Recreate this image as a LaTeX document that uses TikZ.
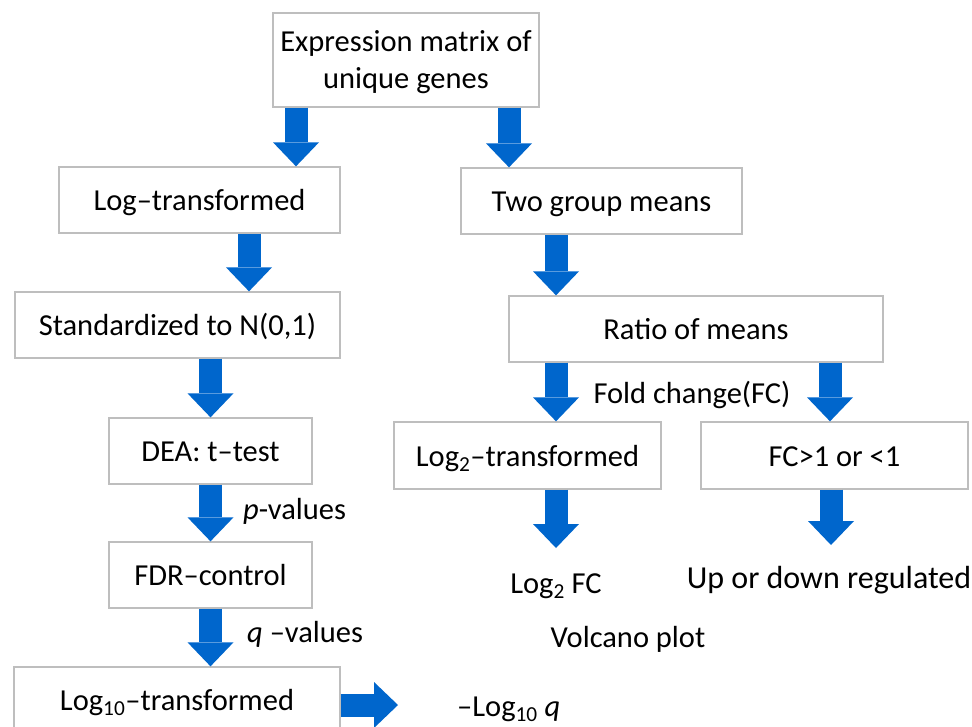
\documentclass[tikz,border=0pt]{standalone}
\usepackage{fontspec}
\setmainfont{Carlito}
\usetikzlibrary{arrows.meta}
\definecolor{flowblue}{RGB}{0,102,204}
\definecolor{boxgray}{RGB}{190,190,190}
\tikzset{
	stage/.style={draw=boxgray, line width=1.3pt, fill=white, inner sep=0pt, align=center, text height=22pt, text depth=1pt},
	bigarrow/.style={draw=flowblue, line width=23pt, -{Triangle[width=46pt,length=24pt,line width=0pt]}},
	note/.style={inner sep=0pt}
}

\begin{document}
\begin{tikzpicture}[x=1pt, y=-1pt, font=\fontsize{30.5}{37}\selectfont]
			%%%%% START %%%%%
			\useasboundingbox (0,0) rectangle (972,726);
			
			% boxes
			\node[stage, text height=, text depth=0pt, minimum width=266pt, minimum height=94pt] (top) at (406,60) {Expression matrix of\\unique genes};
			\node[stage, minimum width=281pt, minimum height=66pt] (logt) at (199.5,200) {Log--transformed};
			\node[stage, minimum width=281pt, minimum height=66pt] (twog) at (601.5,201) {Two group means};
			\node[stage, minimum width=325pt, minimum height=66pt] (std) at (177.5,325) {Standardized to N(0,1)};
			\node[stage, minimum width=374pt, minimum height=66pt] (ratio) at (696,329) {Ratio of means};
			\node[stage, minimum width=203pt, minimum height=66pt] (dea) at (210.5,451) {DEA: t--test};
			\node[stage, minimum width=267pt, minimum height=67pt] (log2) at (527.5,455.5) {Log\textsubscript{2}--transformed};
			\node[stage, minimum width=267pt, minimum height=67pt] (fc) at (834.5,455.5) {FC>1 or <1};
			\node[stage, minimum width=203pt, minimum height=66pt] (fdr) at (210.5,575) {FDR--control};
			\node[stage, minimum width=326pt, minimum height=66pt] (log10) at (177,700) {Log\textsubscript{10}--transformed};
			
			% free labels
			\node[note, anchor=base west] (pval) at (243,519) {\textit{p}-values};
			\node[note, anchor=base west] (qval) at (247,642) {\textit{q} --values};
			\node[note, anchor=base] (fold) at (692,403) {Fold change(FC)};
			\node[note, anchor=base] (log2fc) at (556,593) {Log\textsubscript{2} FC};
			\node[note, anchor=base, font=\fontsize{32}{38}\selectfont] (updown) at (829,588) {Up or down regulated};
			\node[note, anchor=base] (volcano) at (628,647) {Volcano plot};
			\node[note, anchor=base west] (neglog) at (457,716) {--Log\textsubscript{10} \textit{q}};
			
			\coordinate (fcend) at (556,548);
			\coordinate (updend) at (831,545);
			\coordinate (qend) at (398,705);
			
			% block arrows
			\draw[bigarrow] ([xshift=-110pt]top.south) -- ([xshift=96.5pt]logt.north);
			\draw[bigarrow] ([xshift=103pt]top.south) -- ([xshift=-92.5pt]twog.north);
			\draw[bigarrow] ([xshift=49.5pt]logt.south) -- ([xshift=71.5pt]std.north);
			\draw[bigarrow] ([xshift=-45.5pt]twog.south) -- ([xshift=-140pt]ratio.north);
			\draw[bigarrow] ([xshift=33pt]std.south) -- (dea.north);
			\draw[bigarrow] ([xshift=-140pt]ratio.south) -- ([xshift=28.5pt]log2.north);
			\draw[bigarrow] ([xshift=134pt]ratio.south) -- ([xshift=-4.5pt]fc.north);
			\draw[bigarrow] (dea.south) -- (fdr.north);
			\draw[bigarrow] (fdr.south) -- (fdr.south |- log10.north);
			\draw[bigarrow] ([xshift=28.5pt]log2.south) -- (fcend);
			\draw[bigarrow] ([xshift=-3.5pt]fc.south) -- (updend);
			\draw[bigarrow] (log10.east |- qend) -- (qend);
			
			%%%%% END %%%%%
\end{tikzpicture}
\end{document}
